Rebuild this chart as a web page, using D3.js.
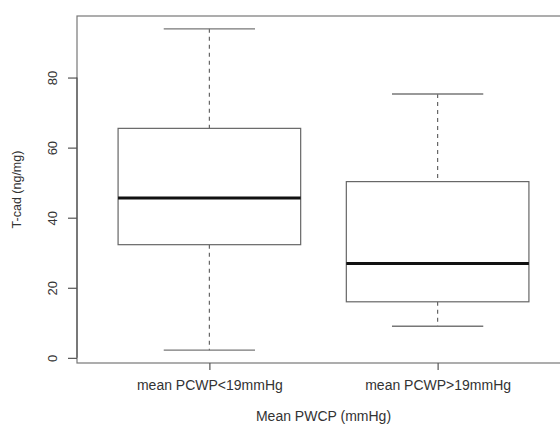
<!DOCTYPE html>
<html>
<head>
<meta charset="utf-8">
<script src="https://cdn.jsdelivr.net/npm/d3@7"></script>
<style>
  body { margin: 0; background: #fff; }
  svg { display: block; font-family: "Liberation Sans", Arial, sans-serif; }
</style>
</head>
<body>
<div id="chart"></div>
<script>
// group labels and five-number summaries
const groups = ["mean PCWP<19mmHg", "mean PCWP>19mmHg"];
const whiskerLow = [2.2, 9.0];
const q1 = [32.3, 16.0];
const median = [45.6, 26.9];
const q3 = [65.5, 50.3];
const whiskerHigh = [93.9, 75.3];
const yTicks = [0, 20, 40, 60, 80];

const width = 560, height = 425;
const margin = {top: 16, right: -10, bottom: 62, left: 77};

const svg = d3.select("#chart").append("svg")
    .attr("width", width)
    .attr("height", height);

const data = groups.map((g, i) => ({
    group: g, pos: i + 1,
    lo: whiskerLow[i], q1: q1[i], med: median[i], q3: q3[i], hi: whiskerHigh[i]
}));

// R style 4% extension of the axis ranges
const xMin = 0.5, xMax = groups.length + 0.5;
const xPad = (xMax - xMin) * 0.04;
const x = d3.scaleLinear()
    .domain([xMin - xPad, xMax + xPad])
    .range([margin.left, width - margin.right]);

const yMin = d3.min(whiskerLow), yMax = d3.max(whiskerHigh);
const yPad = (yMax - yMin) * 0.04;
const y = d3.scaleLinear()
    .domain([yMin - yPad, yMax + yPad])
    .range([height - margin.bottom, margin.top]);

const boxW = 0.8, capW = 0.4;

// plot frame
svg.append("rect")
    .attr("x", x.range()[0])
    .attr("y", y.range()[1])
    .attr("width", x.range()[1] - x.range()[0])
    .attr("height", y.range()[0] - y.range()[1])
    .attr("fill", "none")
    .attr("stroke", "#777")
    .attr("stroke-width", 1.2);

const box = svg.selectAll(".box")
    .data(data)
    .join("g")
    .attr("class", "box");

// dashed whiskers
box.append("line")
    .attr("x1", d => x(d.pos)).attr("x2", d => x(d.pos))
    .attr("y1", d => y(d.hi)).attr("y2", d => y(d.q3))
    .attr("stroke", "#666").attr("stroke-width", 1.2)
    .attr("stroke-dasharray", "4,4");
box.append("line")
    .attr("x1", d => x(d.pos)).attr("x2", d => x(d.pos))
    .attr("y1", d => y(d.q1)).attr("y2", d => y(d.lo))
    .attr("stroke", "#666").attr("stroke-width", 1.2)
    .attr("stroke-dasharray", "4,4");

// caps
["lo", "hi"].forEach(k => {
    box.append("line")
        .attr("x1", d => x(d.pos - capW / 2)).attr("x2", d => x(d.pos + capW / 2))
        .attr("y1", d => y(d[k])).attr("y2", d => y(d[k]))
        .attr("stroke", "#777").attr("stroke-width", 1.4);
});

box.append("rect")
    .attr("x", d => x(d.pos - boxW / 2))
    .attr("y", d => y(d.q3))
    .attr("width", d => x(d.pos + boxW / 2) - x(d.pos - boxW / 2))
    .attr("height", d => y(d.q1) - y(d.q3))
    .attr("fill", "#fff")
    .attr("stroke", "#666")
    .attr("stroke-width", 1.2);

box.append("line")
    .attr("x1", d => x(d.pos - boxW / 2)).attr("x2", d => x(d.pos + boxW / 2))
    .attr("y1", d => y(d.med)).attr("y2", d => y(d.med))
    .attr("stroke", "#111").attr("stroke-width", 3);

// y axis
const yAxis = svg.append("g")
    .attr("transform", `translate(${x.range()[0]},0)`)
    .call(d3.axisLeft(y).tickValues(yTicks).tickSize(9).tickPadding(12));
yAxis.select(".domain").remove();
yAxis.append("line")
    .attr("y1", y(d3.min(yTicks))).attr("y2", y(d3.max(yTicks)))
    .attr("stroke", "#555").attr("stroke-width", 1.2);
yAxis.selectAll(".tick line").attr("stroke", "#555").attr("stroke-width", 1.2);
yAxis.selectAll(".tick text")
    .attr("fill", "#333")
    .attr("font-size", 13)
    .attr("x", null).attr("dy", null)
    .attr("text-anchor", "middle")
    .attr("transform", "translate(-20,0) rotate(-90)");

// x axis
const xAxis = svg.append("g")
    .attr("transform", `translate(0,${y.range()[0]})`)
    .call(d3.axisBottom(x)
        .tickValues(data.map(d => d.pos))
        .tickFormat((d, i) => groups[i])
        .tickSize(7).tickPadding(10));
xAxis.select(".domain").remove();
xAxis.selectAll(".tick line").attr("stroke", "#555").attr("stroke-width", 1.2);
xAxis.selectAll(".tick text")
    .attr("fill", "#333")
    .attr("font-size", 14);

// axis titles
svg.append("text")
    .attr("x", (x.range()[0] + x.range()[1]) / 2)
    .attr("y", 421)
    .attr("text-anchor", "middle")
    .attr("font-size", 14)
    .attr("fill", "#333")
    .text("Mean PWCP (mmHg)");

svg.append("text")
    .attr("transform", `translate(21,${(y.range()[0] + y.range()[1]) / 2}) rotate(-90)`)
    .attr("text-anchor", "middle")
    .attr("font-size", 12.5)
    .attr("fill", "#333")
    .text("T-cad (ng/mg)");
</script>
</body>
</html>
